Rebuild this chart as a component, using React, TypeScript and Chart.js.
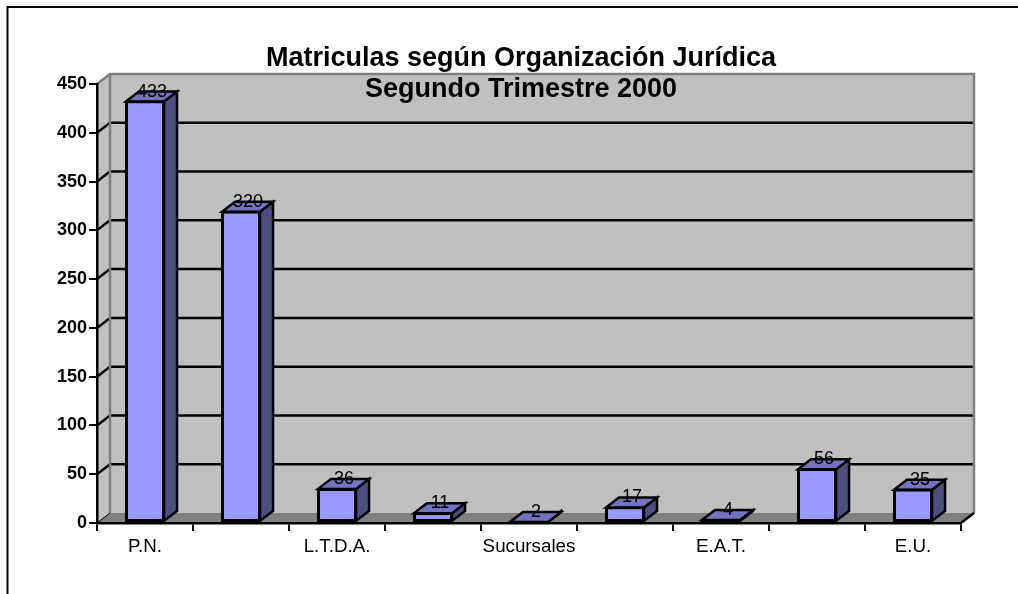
import React, { useEffect, useRef } from "react";
import { Chart, registerables } from "chart.js";

Chart.register(...registerables);

const categories = ["P.N.", "", "L.T.D.A.", "", "Sucursales", "", "E.A.T.", "", "E.U."];
const matriculas = [433, 320, 36, 11, 2, 17, 4, 56, 35];
const yTicks = [0, 50, 100, 150, 200, 250, 300, 350, 400, 450];
const titleLines = ["Matriculas según Organización Jurídica", "Segundo Trimestre 2000"];

const FONT = "'Liberation Sans', Arial, sans-serif";
const DX = 13;
const DY = -10;
const LINE = 2.5;

const poly = (ctx: CanvasRenderingContext2D, pts: number[][], fill?: string, stroke?: string, lw = LINE) => {
  ctx.beginPath();
  pts.forEach((p, i) => (i ? ctx.lineTo(p[0], p[1]) : ctx.moveTo(p[0], p[1])));
  ctx.closePath();
  if (fill) {
    ctx.fillStyle = fill;
    ctx.fill();
  }
  if (stroke) {
    ctx.strokeStyle = stroke;
    ctx.lineWidth = lw;
    ctx.stroke();
  }
};

const depthPlugin = {
  id: "depth",
  afterLayout(chart: any) {
    // the title is centred on the plot, not on the canvas
    if (chart.titleBlock) chart.titleBlock.left = 81;
  },
  beforeDraw(chart: any) {
    const { ctx, chartArea: a, scales } = chart;
    const { left: l, right: r, top: t, bottom: b } = a;
    ctx.save();
    ctx.fillStyle = "#fff";
    ctx.fillRect(0, 0, chart.width, chart.height);
    ctx.strokeStyle = "#000";
    ctx.lineWidth = 2;
    ctx.strokeRect(7.5, 7, 1100, 700);
    // walls and floor
    poly(ctx, [[l + DX, t + DY], [r + DX, t + DY], [r + DX, b + DY], [l + DX, b + DY]], "#C0C0C0");
    poly(ctx, [[l, t], [l + DX, t + DY], [l + DX, b + DY], [l, b]], "#C0C0C0");
    poly(ctx, [[l, b], [l + DX, b + DY], [r + DX, b + DY], [r, b]], "#808080");
    // gridlines
    ctx.lineWidth = LINE;
    ctx.strokeStyle = "#000";
    yTicks.slice(1, -1).forEach((v) => {
      const y = scales.y.getPixelForValue(v);
      ctx.beginPath();
      ctx.moveTo(l, y);
      ctx.lineTo(l + DX, y + DY);
      ctx.lineTo(r + DX, y + DY);
      ctx.stroke();
    });
    // wall edges
    ctx.strokeStyle = "#808080";
    ctx.beginPath();
    ctx.moveTo(l, t);
    ctx.lineTo(l + DX, t + DY);
    ctx.lineTo(r + DX, t + DY);
    ctx.lineTo(r + DX, b + DY);
    ctx.moveTo(l + DX, t + DY);
    ctx.lineTo(l + DX, b + DY);
    ctx.stroke();
    // floor edges
    ctx.strokeStyle = "#000";
    ctx.beginPath();
    ctx.moveTo(r, b);
    ctx.lineTo(r + DX, b + DY);
    ctx.stroke();
    ctx.lineWidth = 1;
    ctx.beginPath();
    ctx.moveTo(l, b);
    ctx.lineTo(l + DX, b + DY);
    ctx.stroke();
    ctx.restore();
  },
  beforeDatasetsDraw(chart: any) {
    const { ctx } = chart;
    const bars = chart.getDatasetMeta(0).data;
    ctx.save();
    ctx.lineJoin = "miter";
    bars.forEach((bar: any) => {
      const p = bar.getProps(["x", "y", "base", "width"], true);
      const x0 = p.x - p.width / 2 + 1;
      const x1 = p.x + p.width / 2 - 1;
      const top = p.y + 1;
      const base = p.base - 1;
      poly(ctx, [[x1, top], [x1 + DX, top + DY], [x1 + DX, base + DY], [x1, base]], "#4D4D80", "#000");
      poly(ctx, [[x0, top], [x0 + DX, top + DY], [x1 + DX, top + DY], [x1, top]], "#7373BF", "#000");
    });
    ctx.restore();
  },
  afterDatasetsDraw(chart: any) {
    const { ctx } = chart;
    const bars = chart.getDatasetMeta(0).data;
    ctx.save();
    ctx.font = `18px ${FONT}`;
    ctx.fillStyle = "#000";
    ctx.textAlign = "center";
    ctx.textBaseline = "middle";
    bars.forEach((bar: any, i: number) => {
      const p = bar.getProps(["x", "y"], true);
      ctx.fillText(String(matriculas[i]), p.x + 7, p.y + DY + 1);
    });
    ctx.restore();
  },
};

export default function App() {
  const ref = useRef<HTMLCanvasElement>(null);
  useEffect(() => {
    const chart = new Chart(ref.current!, {
      type: "bar",
      data: {
        labels: categories,
        datasets: [
          {
            label: "Matriculas",
            data: matriculas,
            backgroundColor: "#9999FF",
            borderColor: "#000",
            borderWidth: 3,
            borderSkipped: false,
            barPercentage: 0.417,
            categoryPercentage: 1,
          },
        ],
      },
      options: {
        animation: false,
        responsive: false,
        layout: { padding: { top: 0, right: 57, bottom: 0, left: 0 } },
        plugins: {
          legend: { display: false },
          tooltip: { enabled: false },
          title: {
            display: true,
            text: titleLines,
            color: "#000",
            font: { family: FONT, size: 27, weight: "bold", lineHeight: 31 / 27 },
            padding: { top: 43, bottom: -21 },
          },
        },
        scales: {
          x: {
            grid: {
              drawOnChartArea: false,
              drawTicks: true,
              tickLength: 8,
              tickColor: "#000",
              lineWidth: 2,
              offset: true,
            },
            border: { color: "#000", width: LINE },
            ticks: {
              color: "#000",
              font: { family: FONT, size: 18.75 },
              maxRotation: 0,
              autoSkip: false,
              padding: 5,
            },
            afterFit: (s: any) => {
              s.height = 71;
            },
          },
          y: {
            min: 0,
            max: 450,
            afterBuildTicks: (s: any) => {
              s.ticks = yTicks.map((value) => ({ value }));
            },
            grid: {
              drawOnChartArea: false,
              drawTicks: true,
              tickLength: 8,
              tickColor: "#000",
              lineWidth: 2,
            },
            border: { color: "#000", width: LINE },
            ticks: {
              color: "#000",
              font: { family: FONT, size: 18, weight: "bold" },
              padding: 2,
            },
            afterFit: (s: any) => {
              s.width = 97;
            },
          },
        },
      },
      plugins: [depthPlugin],
    } as any);
    return () => chart.destroy();
  }, []);
  return (
    <canvas
      ref={ref}
      width={1018}
      height={594}
      style={{ position: "absolute", left: 0, top: 0, display: "block" }}
    />
  );
}
